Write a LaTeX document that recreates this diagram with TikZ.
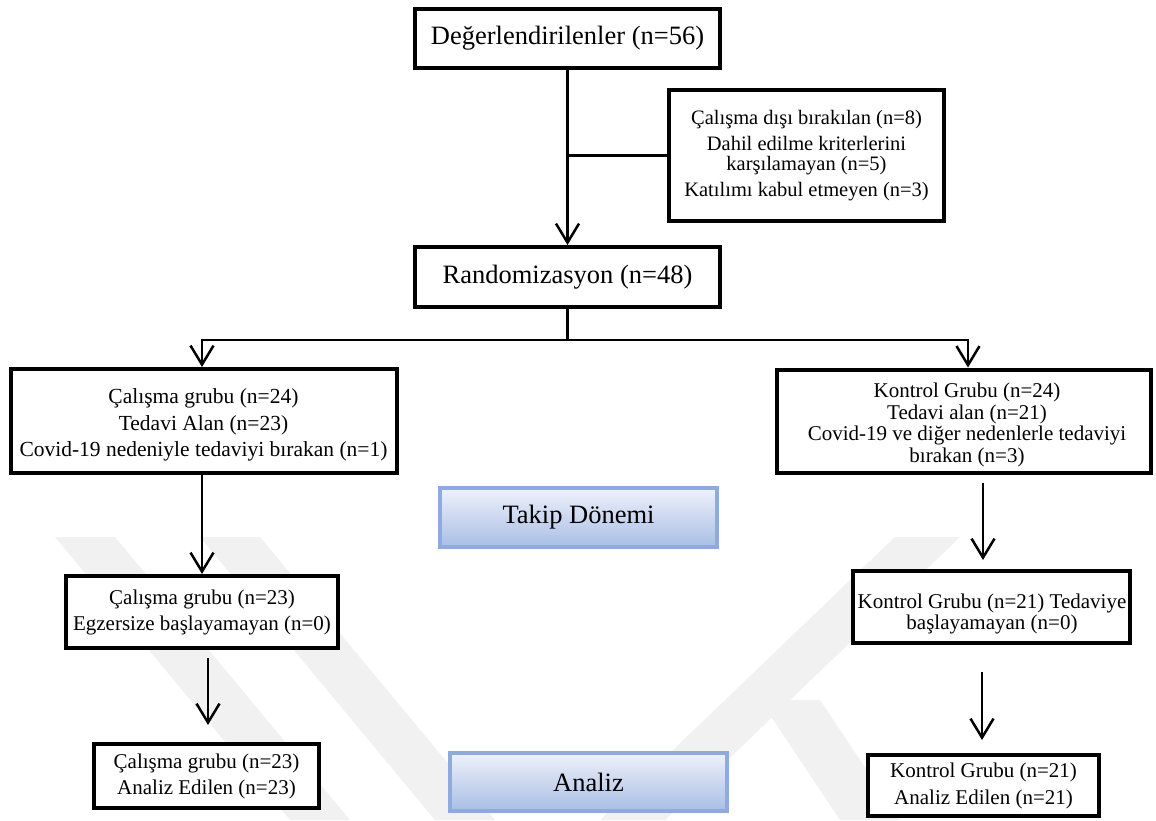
\documentclass[tikz,border=0pt]{standalone}
\usepackage{fontspec}
\setmainfont{Liberation Serif}
\usetikzlibrary{arrows.meta,calc}
\definecolor{wm}{HTML}{F1F1F1}
\definecolor{bluebd}{HTML}{8FAADC}
\definecolor{bluetop}{HTML}{EEF1FA}
\definecolor{bluebot}{HTML}{A9BEE5}
\begin{document}
\begin{tikzpicture}[x=1pt,y=-1pt,
  box/.style={draw=black, line width=4pt, fill=white, inner sep=0pt, align=center},
  txt/.style={inner sep=0pt, align=center},
  bigtxt/.style={font=\fontsize{26.5}{30}\selectfont},
  smalltxt/.style={font=\fontsize{21}{26}\selectfont},
  phase/.style={draw=bluebd, line width=4pt, top color=bluetop, bottom color=bluebot, inner sep=0pt, align=center, font=\fontsize{26.5}{30}\selectfont},
  conn/.style={line width=2.5pt},
  arr/.style={line width=2.5pt, -{Straight Barb[length=19pt,width=23pt]}}
]
\useasboundingbox (0,0) rectangle (1156,820);
\fill[white] (0,0) rectangle (1156,820);
% faint watermark
\fill[wm] (55,537) -- (115,537) -- (350,820) -- (290,820) -- cycle;
\fill[wm] (200,537) -- (260,537) -- (495,820) -- (435,820) -- cycle;
\fill[wm] (600,820) -- (665,820) -- (960,537) -- (895,537) -- cycle;
\fill[wm] (760,700) -- (820,700) -- (900,820) -- (840,820) -- cycle;

% nodes
\node[box, bigtxt, minimum width=305pt, minimum height=59pt] (b1) at (567.5,38.5) {Değerlendirilenler (n=56)};
\node[box, font=\fontsize{20.5}{20}\selectfont, minimum width=275pt, minimum height=131pt] (ex) at (806.5,155.5)
  {Çalışma dışı bırakılan (n=8)\\[6pt]Dahil edilme kriterlerini\\karşılamayan (n=5)\\[6pt]Katılımı kabul etmeyen (n=3)};
\node[box, bigtxt, minimum width=305pt, minimum height=60pt] (rand) at (567.5,277) {Randomizasyon (n=48)};

\node[box, minimum width=386pt, minimum height=104pt] (l1) at (203.5,421) {};
\node[txt, font=\fontsize{21.5}{26.5}\selectfont] (l1t) at (203.5,425)
  {Çalışma grubu (n=24)\\Tedavi Alan (n=23)\\Covid-19 nedeniyle tedaviyi bırakan (n=1)};
\node[box, smalltxt, minimum width=272pt, minimum height=72pt] (l2) at (202,612)
  {Çalışma grubu (n=23)\\Egzersize başlayamayan (n=0)};
\node[box, smalltxt, minimum width=225pt, minimum height=64pt] (l3) at (206.5,776)
  {Çalışma grubu (n=23)\\Analiz Edilen (n=23)};

\node[box, minimum width=374pt, minimum height=103pt] (r1) at (964,421) {};
\node[txt, font=\fontsize{21}{21.5}\selectfont] (r1t) at (967,425)
  {Kontrol Grubu (n=24)\\Tedavi alan (n=21)\\Covid-19 ve diğer nedenlerle tedaviyi\\bırakan (n=3)};
\node[box, minimum width=277pt, minimum height=72pt] (r2) at (991.5,607) {};
\node[txt, font=\fontsize{21}{21.5}\selectfont] (r2t) at (992,614)
  {Kontrol Grubu (n=21) Tedaviye\\başlayamayan (n=0)};
\node[box, font=\fontsize{21}{27}\selectfont, minimum width=231pt, minimum height=61pt] (r3) at (983.5,785.5)
  {Kontrol Grubu (n=21)\\Analiz Edilen (n=21)};

\node[phase, minimum width=277pt, minimum height=59pt] (takip) at (578.5,517.5) {Takip Dönemi};
\node[phase, minimum width=277pt, minimum height=58pt] (analiz) at (588.5,782) {Analiz};

% connectors
\coordinate (exj) at (b1.south |- ex.west);
\coordinate (split) at (567.5,340);
\draw[arr] (b1.south) -- (rand.north);
\draw[conn] (exj) -- (ex.west);
\draw[conn] (rand.south) -- (split);
\draw[arr] (split) -| ([xshift=-1.5pt]l1.north);
\draw[arr] (split) -| ([xshift=4pt]r1.north);
\draw[arr] ([xshift=-1.5pt]l1.south) -- ([xshift=-1.5pt]l1.south |- l2.north);
\draw[arr] ([xshift=6pt,yshift=-8pt]l2.south) -- ([xshift=1.5pt,yshift=17pt]l3.north);
\draw[arr] ([xshift=19pt,yshift=-8pt]r1.south) -- ([xshift=-8.5pt,yshift=9pt]r2.north);
\draw[arr] ([xshift=-9.5pt,yshift=-27pt]r2.south) -- ([xshift=-1.5pt,yshift=13pt]r3.north);
\end{tikzpicture}
\end{document}
